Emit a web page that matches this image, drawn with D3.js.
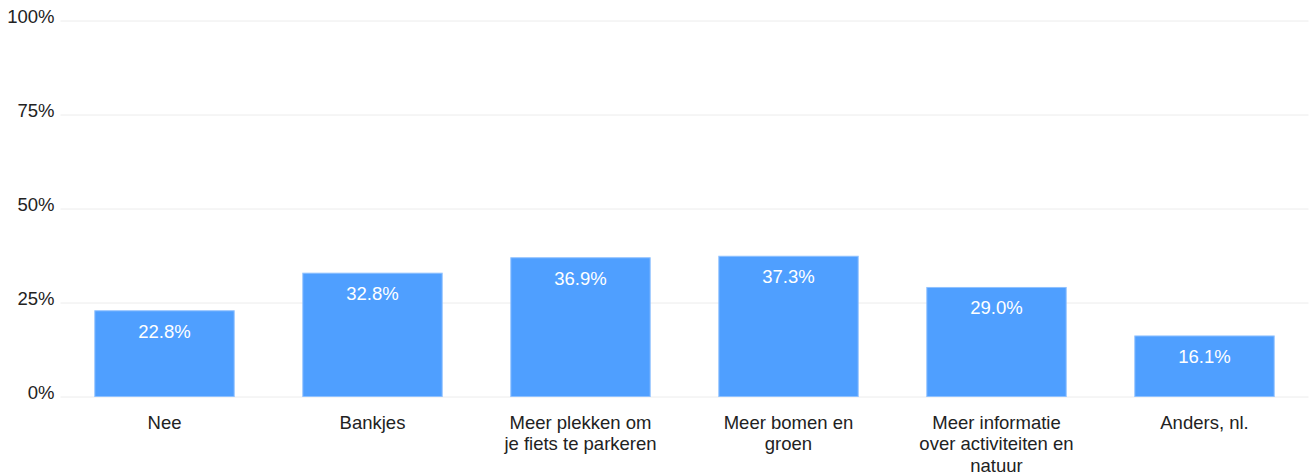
<!DOCTYPE html>
<html>
<head>
<meta charset="utf-8">
<script src="https://cdn.jsdelivr.net/npm/d3@7"></script>
<style>
  body { margin: 0; background: #fff; }
  text { font-family: "Liberation Sans", Arial, sans-serif; }
</style>
</head>
<body>
<script>
let categories = ['Nee', 'Bankjes', 'Meer plekken om je fiets te parkeren', 'Meer bomen en groen', 'Meer informatie over activiteiten en natuur', 'Anders, nl.'];
let values = [22.8, 32.8, 36.9, 37.3, 29.0, 16.1];
let yTicks = [0, 25, 50, 75, 100];

let svgWidth = 1309;
let svgHeight = 475;

let margins = { top: 20.5, right: 0.5, bottom: 78.5, left: 60.5 };

let chartWidth = svgWidth - margins.left - margins.right;
let chartHeight = svgHeight - margins.top - margins.bottom;

let svg = d3.select('body')
  .append('svg')
  .attr('width', svgWidth)
  .attr('height', svgHeight);

let chart = svg.append('g')
  .attr('transform', `translate(${margins.left}, ${margins.top})`);

let x = d3.scaleBand()
  .domain(categories)
  .range([0, chartWidth])
  .paddingInner(0.33)
  .paddingOuter(0.165);

let y = d3.scaleLinear()
  .domain([0, 100])
  .range([chartHeight, 0]);

// gridlines + tick labels
let leftAxis = d3.axisLeft(y)
  .tickValues(yTicks)
  .tickSize(-chartWidth)
  .tickPadding(6)
  .tickFormat(d => d + '%');

let yAxis = chart.append('g').call(leftAxis);
yAxis.select('.domain').remove();
yAxis.selectAll('.tick line').attr('stroke', '#ececec').attr('stroke-width', 1);
yAxis.selectAll('.tick text')
  .attr('fill', '#222')
  .attr('font-size', '18.5px')
  .attr('dy', '0.1em');

let data = categories.map((c, i) => ({ cat: c, val: values[i] }));

chart.selectAll('.bar')
  .data(data)
  .enter()
  .append('rect')
  .attr('class', 'bar')
  .attr('x', d => x(d.cat))
  .attr('y', d => y(d.val))
  .attr('width', x.bandwidth())
  .attr('height', d => chartHeight - y(d.val))
  .attr('fill', '#4f9fff')
  .attr('stroke', '#8fc1ff')
  .attr('stroke-width', 1);

chart.selectAll('.val')
  .data(data)
  .enter()
  .append('text')
  .attr('class', 'val')
  .attr('x', d => x(d.cat) + x.bandwidth() / 2)
  .attr('y', d => y(d.val) + 27)
  .attr('text-anchor', 'middle')
  .attr('fill', '#fff')
  .attr('font-size', '18.5px')
  .text(d => d.val.toFixed(1) + '%');

// category labels, wrapped
let labels = chart.selectAll('.cat')
  .data(data)
  .enter()
  .append('text')
  .attr('class', 'cat')
  .attr('text-anchor', 'middle')
  .attr('fill', '#222')
  .attr('font-size', '18.5px')
  .attr('x', d => x(d.cat) + x.bandwidth() / 2)
  .attr('y', chartHeight + 32);

labels.each(function (d) {
  let el = d3.select(this);
  let words = d.cat.split(' ');
  let line = [];
  let cx = x(d.cat) + x.bandwidth() / 2;
  let tspan = el.append('tspan').attr('x', cx).attr('dy', 0);
  words.forEach(w => {
    line.push(w);
    tspan.text(line.join(' '));
    if (tspan.node().getComputedTextLength() > 160 && line.length > 1) {
      line.pop();
      tspan.text(line.join(' '));
      line = [w];
      tspan = el.append('tspan').attr('x', cx).attr('dy', '1.17em').text(w);
    }
  });
});
</script>
</body>
</html>
